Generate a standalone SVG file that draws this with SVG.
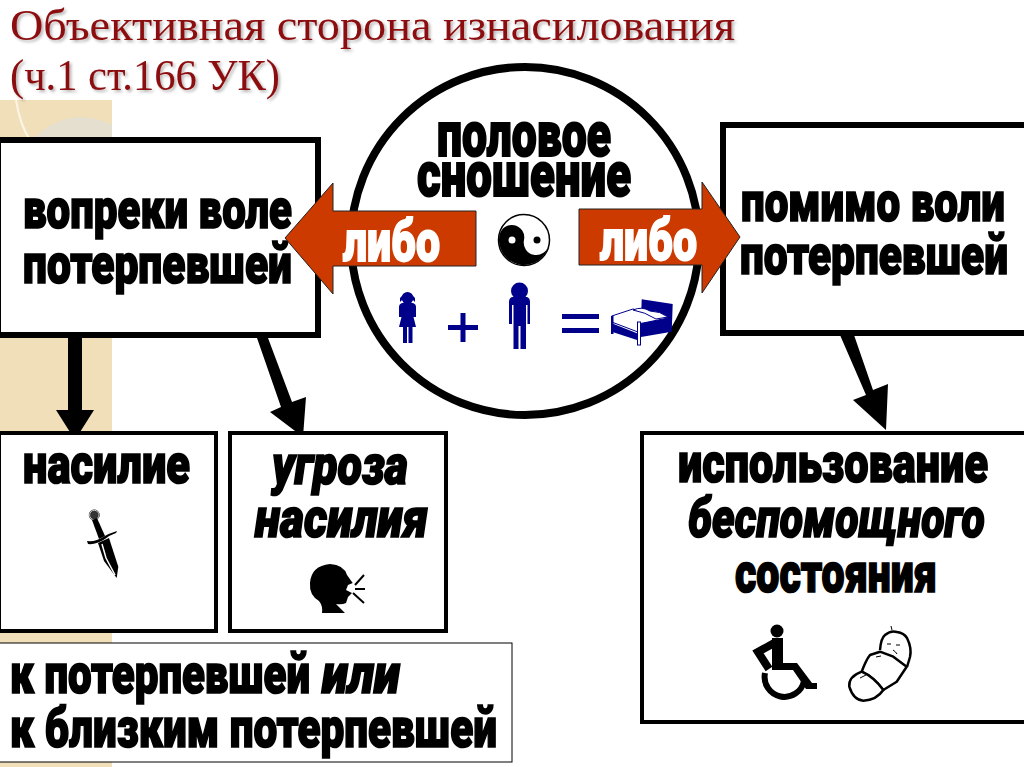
<svg xmlns="http://www.w3.org/2000/svg" width="1024" height="767" viewBox="0 0 1024 767">
<style>
.t{font-family:Roboto,"Liberation Sans",sans-serif;font-weight:900;font-size:42px;fill:#000;stroke:#000;stroke-width:1.300}
.i{font-style:italic}
.w{fill:#fff;stroke:#fff}
.h{font-family:"Liberation Serif",serif;font-size:44px;fill:#8b0a0f}
.b{fill:#fff;stroke:#000}
.red{fill:#cc3a00;stroke:#222;stroke-width:1}
.blue{fill:#00008b}
</style>
<defs><filter id="sh" x="-5%" y="-20%" width="110%" height="140%"><feDropShadow dx="2" dy="2" stdDeviation="1.500" flood-color="#000" flood-opacity=".3"/></filter></defs>
<rect width="1024" height="767" fill="#fff"/>
<g id="background">
<rect x="0" y="100" width="112" height="667" fill="#f1dfba"/>
<path d="M16 100Q20 125 30 140" fill="none" stroke="#fbf6e8" stroke-width="2"/>
<path d="M35 137Q70 105 112 125V137Z" fill="#e4dfcf"/>
</g>
<g id="title" filter="url(#sh)">
<text class="h" x="10" y="40" textLength="725" lengthAdjust="spacingAndGlyphs">Объективная сторона изнасилования</text>
<text class="h" x="10" y="90" textLength="270" lengthAdjust="spacingAndGlyphs">(ч.1 ст.166 УК)</text>
</g>
<g id="connectors">
<path d="M68 338H82V410H94L75 440L56 410H68Z"/>
<path d="M257 338H268L292 402L306 397L303 437L270 412L281 407Z"/>
<path d="M840 335H854L873 390L888 384L886 430L853 400L866 395Z"/>
</g>
<g id="node-circle">
<circle cx="525" cy="241" r="174" class="b" stroke-width="8"/>
<text class="t" transform="translate(437 156) scale(1 1.500)" textLength="174" lengthAdjust="spacingAndGlyphs">половое</text>
<text class="t" transform="translate(417 196) scale(1 1.500)" textLength="214" lengthAdjust="spacingAndGlyphs">сношение</text>
<g id="yinyang">
<circle cx="524" cy="240" r="25.500" fill="#fff" stroke="#000" stroke-width="1.500"/>
<path d="M499 240A12.500 12.500 0 0 1 524 240A12.500 12.500 0 0 0 549 240A25 25 0 0 1 499 240Z" transform="rotate(12 524 240)"/>
<circle cx="512" cy="240" r="3.500" fill="#fff"/><circle cx="537" cy="240" r="3.500"/>
</g>
<g id="symbols" class="blue">
<circle cx="407.500" cy="298" r="6"/>
<path d="M402 296L400 298L400 302L402 300M413 296L415 298L415 302L413 300"/>
<path d="M402 303H413Q416 304 416 307V317H413.500L416 327H399L401.500 317H399V307Q399 304 402 303Z"/>
<path d="M403 327H407V343H403ZM408.500 327H412.500V343H408.500Z"/>
<circle cx="519.500" cy="291" r="8.500"/>
<path d="M512 297H527Q530 298 530 302V324H527.500V305H526V349H520.500V326H518.500V349H513.500V305H512V324H509V302Q509 298 512 297Z"/>
<rect x="448" y="325" width="30" height="5"/><rect x="460.500" y="313" width="5" height="29"/>
<rect x="562" y="314" width="37" height="5"/><rect x="562" y="328" width="37" height="5"/>
<g id="bed">
<path d="M641.700 299.300L672.700 304L671.700 331.700L641 337V320Z"/>
<path d="M611.700 316L633 309L668 318L638 324V332L611.700 322Z" fill="#fff" stroke="#00008b" stroke-width="1"/>
<path d="M633 310Q642 306 650 311Q660 311 668 317L656 319Q645 312 633 310Z" fill="#fff" stroke="#00008b" stroke-width="1"/>
<path d="M611.700 323.300L637 333.300V340L611.700 331.700Z"/>
<path d="M611 316V334H613.500V316Z"/>
<rect x="637.500" y="322" width="3" height="23" fill="#fff" stroke="#00008b" stroke-width="1"/>
</g>
</g>
</g>
<g id="node-left">
<rect x="-2" y="140" width="320" height="195" class="b" stroke-width="6"/>
<text class="t" transform="translate(23 228) scale(1 1.330)" textLength="269" lengthAdjust="spacingAndGlyphs">вопреки воле</text>
<text class="t" transform="translate(23 283) scale(1 1.330)" textLength="269" lengthAdjust="spacingAndGlyphs">потерпевшей</text>
</g>
<g id="node-right">
<rect x="723" y="125" width="305" height="208" class="b" stroke-width="6"/>
<text class="t" transform="translate(741 221) scale(1 1.330)" textLength="264" lengthAdjust="spacingAndGlyphs">помимо воли</text>
<text class="t" transform="translate(740 274) scale(1 1.330)" textLength="268" lengthAdjust="spacingAndGlyphs">потерпевшей</text>
</g>
<g id="arrow-left">
<path class="red" d="M285 238L333 183V211H476V266H333V294Z"/>
<text class="t w" transform="translate(343 261) scale(1 1.350)" textLength="97" lengthAdjust="spacingAndGlyphs">либо</text>
</g>
<g id="arrow-right">
<path class="red" d="M579 209H702V182L740 237L702 293V265H579Z"/>
<text class="t w" transform="translate(600 260) scale(1 1.350)" textLength="97" lengthAdjust="spacingAndGlyphs">либо</text>
</g>
<g id="node-violence">
<rect x="-1" y="433" width="217" height="198" class="b" stroke-width="4"/>
<text class="t" transform="translate(23 483) scale(1 1.330)" textLength="167" lengthAdjust="spacingAndGlyphs">насилие</text>
<g id="dagger">
<circle cx="94.300" cy="515" r="5" fill="#333" stroke="#000" stroke-width="1"/>
<circle cx="94.300" cy="515" r="4.700" fill="none" stroke="#ccc" stroke-width="1"/>
<path d="M92 520L97 518L105 536L99 539Z"/>
<path d="M87 541Q96 542 103 537Q110 533 117 531L116 533Q110 535 105 539Q96 545 88 544Z"/>
<path d="M98 543L109 538L118.300 566.700L116.700 578L104 561Z"/>
<path d="M102 544L106 558L115 575" stroke="#fff" stroke-width="1.500" fill="none"/>
</g>
</g>
<g id="node-threat">
<rect x="230" y="433" width="216" height="198" class="b" stroke-width="4"/>
<text class="t i" transform="translate(272 484) scale(1 1.330)" textLength="136" lengthAdjust="spacingAndGlyphs">угроза</text>
<text class="t i" transform="translate(255 537) scale(1 1.330)" textLength="173" lengthAdjust="spacingAndGlyphs">насилия</text>
<g id="head">
<path d="M330 564Q344 565 347 575L352.700 583L348 585L346 590L352 593L348 597L346 603Q342 605 336 604L345 613H322Q323 606 319 601Q309 595 310 583Q311 566 330 564Z"/>
<path d="M355 585L364 575M355 589H365M353 593L364 603" stroke="#000" stroke-width="2" fill="none"/>
</g>
</g>
<g id="node-helpless">
<rect x="642" y="433" width="386" height="289" class="b" stroke-width="4"/>
<text class="t" transform="translate(678 482) scale(1 1.330)" textLength="310" lengthAdjust="spacingAndGlyphs">использование</text>
<text class="t i" transform="translate(688 537) scale(1 1.330)" textLength="297" lengthAdjust="spacingAndGlyphs">беспомощного</text>
<text class="t" transform="translate(735 592) scale(1 1.330)" textLength="202" lengthAdjust="spacingAndGlyphs">состояния</text>
<g id="wheelchair">
<circle cx="777" cy="631" r="6.500"/>
<rect x="772" y="638" width="11" height="30"/>
<path d="M776 642L758 652L769 669" fill="none" stroke="#000" stroke-width="8"/>
<path d="M772 663H797L812 683H817V689H806L793 670H772Z"/>
<path d="M765 673A17.500 17.500 0 1 0 804 681" fill="none" stroke="#000" stroke-width="6"/>
</g>
<g id="baby" fill="#fff" stroke="#000" stroke-width="2.500" stroke-linejoin="round">
<path d="M880 650Q881 638 885 635Q891 630 897 632Q904 633 907 638Q912 648 910 657L907 667"/>
<path d="M861.700 671.700Q866 660 870 655L880 651.700L893.300 656.700L906.700 666.700L896.700 681.700L883.300 690Q873.300 676.700 861.700 671.700Z"/>
<path d="M861.700 671.700Q848.300 676.700 849.300 686.700Q853.300 700 863.300 700.700Q876.700 700 883.300 690Q873.300 676.700 861.700 671.700Z"/>
<path d="M892 630L891 626M887 644H891M896 645H900M893 650Q896 652 897 654M860 678L866 675M876 657L881 656" stroke-width="1" fill="none"/>
</g>
</g>
<g id="node-note">
<rect x="-1" y="643" width="513" height="119" class="b" stroke-width="1"/>
<text class="t" transform="translate(10 693) scale(1 1.330)" textLength="300" lengthAdjust="spacingAndGlyphs">к потерпевшей</text>
<text class="t i" transform="translate(322 693) scale(1 1.330)" textLength="78" lengthAdjust="spacingAndGlyphs">или</text>
<text class="t" transform="translate(10 747) scale(1 1.330)" textLength="487" lengthAdjust="spacingAndGlyphs">к близким потерпевшей</text>
</g>
</svg>
